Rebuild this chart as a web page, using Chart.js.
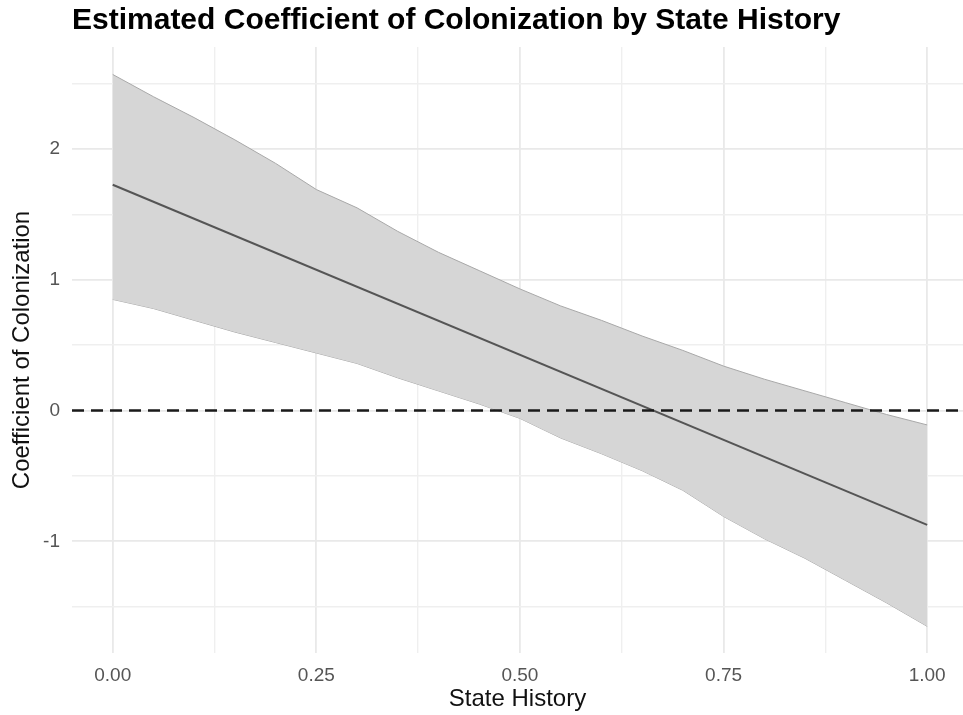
<!DOCTYPE html>
<html>
<head>
<meta charset="utf-8">
<title>Estimated Coefficient of Colonization by State History</title>
<script src="https://cdn.jsdelivr.net/npm/chart.js@4.4.1/dist/chart.umd.min.js"></script>
<style>
  html, body { margin: 0; padding: 0; background: #fff; overflow: hidden; }
  #wrap { width: 963px; height: 715px; }
</style>
</head>
<body>
<div id="wrap"><canvas id="coefChart" width="963" height="715"></canvas></div>
<script>
// values
const stateHistory = [0, 0.05, 0.10, 0.15, 0.20, 0.25, 0.30, 0.35, 0.40, 0.45, 0.50,
                      0.55, 0.60, 0.65, 0.70, 0.75, 0.80, 0.85, 0.90, 0.95, 1.00];
const upperBound = [2.57, 2.40, 2.24, 2.07, 1.89, 1.69, 1.55, 1.37, 1.21, 1.07, 0.93,
                    0.80, 0.69, 0.57, 0.46, 0.34, 0.24, 0.15, 0.06, -0.03, -0.11];
const lowerBound = [0.85, 0.78, 0.69, 0.60, 0.52, 0.44, 0.36, 0.25, 0.15, 0.05, -0.06,
                    -0.21, -0.33, -0.46, -0.61, -0.81, -0.98, -1.13, -1.30, -1.47, -1.65];
const fitX = [0, 1];
const fitY = [1.727, -0.874];
const refLineY = 0;

// axis ranges and tick positions
const xRange = [-0.05, 1.044];
const yRange = [-1.854, 2.78];
const xGrid = [0, 0.125, 0.25, 0.375, 0.5, 0.625, 0.75, 0.875, 1];
const xLabeled = [0, 0.25, 0.5, 0.75, 1];
const yGrid = [-1.5, -1, -0.5, 0, 0.5, 1, 1.5, 2, 2.5];
const yLabeled = [-1, 0, 1, 2];

const FONT = "'Liberation Sans', Arial, Helvetica, sans-serif";
Chart.defaults.font.family = FONT;

const pts = (xs, ys) => xs.map((x, i) => ({ x: x, y: ys[i] }));
const isMajor = (list, v) => list.some(m => Math.abs(m - v) < 1e-9);

const ctx = document.getElementById("coefChart").getContext("2d");

new Chart(ctx, {
  type: "line",
  data: {
    datasets: [
      {
        label: "zero",
        data: [{ x: xRange[0], y: refLineY }, { x: xRange[1], y: refLineY }],
        borderColor: "#1a1a1a",
        borderWidth: 2.4,
        borderDash: [12, 7],
        pointRadius: 0,
        fill: false,
        order: 0,
      },
      {
        label: "estimate",
        data: pts(fitX, fitY),
        borderColor: "#555555",
        borderWidth: 2,
        pointRadius: 0,
        fill: false,
        order: 1,
      },
      {
        label: "lower",
        data: pts(stateHistory, lowerBound),
        borderColor: "#a8a8a8",
        borderWidth: 1,
        pointRadius: 0,
        fill: false,
        order: 3,
      },
      {
        label: "upper",
        data: pts(stateHistory, upperBound),
        borderColor: "#a8a8a8",
        borderWidth: 1,
        backgroundColor: "#d6d6d6",
        pointRadius: 0,
        fill: "-1",
        order: 2,
      },
    ],
  },
  options: {
    responsive: false,
    animation: false,
    layout: { padding: 0 },
    plugins: {
      legend: { display: false },
      tooltip: { enabled: false },
      title: {
        display: true,
        text: "Estimated Coefficient of Colonization by State History",
        align: "start",
        fullSize: false,
        color: "#000000",
        font: { size: 30, weight: "bold", lineHeight: 1.2 },
        padding: { top: 3, bottom: 8 },
      },
    },
    scales: {
      x: {
        type: "linear",
        min: xRange[0],
        max: xRange[1],
        afterBuildTicks: (scale) => { scale.ticks = xGrid.map(v => ({ value: v })); },
        afterFit: (scale) => { scale.height = 62; },
        border: { display: false },
        grid: {
          drawTicks: false,
          color: (c) => (c.tick && isMajor(xLabeled, c.tick.value) ? "#e9e9e9" : "#efefef"),
          lineWidth: (c) => (c.tick && isMajor(xLabeled, c.tick.value) ? 1.8 : 1.4),
        },
        ticks: {
          padding: 11,
          color: "#555555",
          font: { size: 19 },
          maxRotation: 0,
          autoSkip: false,
          callback: (v) => (isMajor(xLabeled, v) ? Number(v).toFixed(2) : ""),
        },
        title: {
          display: true,
          text: "State History",
          color: "#111111",
          font: { size: 24 },
          padding: { top: 0, bottom: 1 },
        },
      },
      y: {
        type: "linear",
        min: yRange[0],
        max: yRange[1],
        afterBuildTicks: (scale) => { scale.ticks = yGrid.map(v => ({ value: v })); },
        afterFit: (scale) => { scale.width = 72; },
        border: { display: false },
        grid: {
          drawTicks: false,
          color: (c) => (c.tick && isMajor(yLabeled, c.tick.value) ? "#e9e9e9" : "#efefef"),
          lineWidth: (c) => (c.tick && isMajor(yLabeled, c.tick.value) ? 1.8 : 1.4),
        },
        ticks: {
          padding: 12,
          color: "#555555",
          font: { size: 19 },
          autoSkip: false,
          callback: (v) => (isMajor(yLabeled, v) ? String(v) : ""),
        },
        title: {
          display: true,
          text: "Coefficient of Colonization",
          color: "#111111",
          font: { size: 24 },
          padding: { top: 8, bottom: 0 },
        },
      },
    },
  },
});
</script>
</body>
</html>
